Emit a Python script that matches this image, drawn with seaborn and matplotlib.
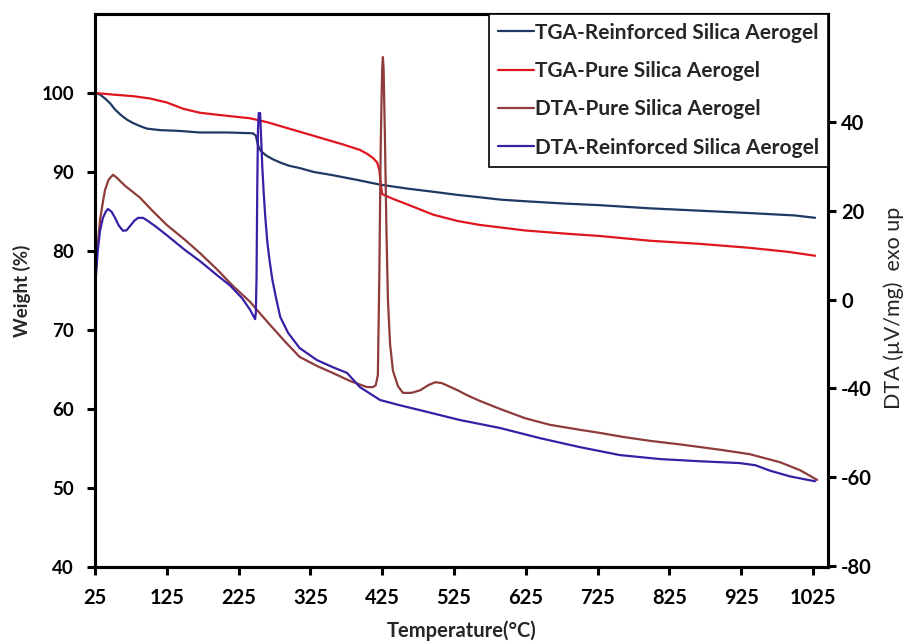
import matplotlib
matplotlib.use("Agg")
import matplotlib.pyplot as plt
import seaborn as sns
import pandas as pd

# ---------------- data ----------------
# TGA - Reinforced silica aerogel (Weight %, left axis)
tga_rein_T = [25, 32, 39, 46, 53, 60, 64, 70, 78, 88, 97, 106, 116, 143, 171, 210, 245, 249,
              252, 255, 258, 262, 265, 273, 283, 295, 310, 330, 356, 390, 422, 460, 496, 530,
              561, 590, 624, 680, 728, 798, 868, 937, 1000, 1028]
tga_rein_W = [100.0, 99.8, 99.3, 98.7, 97.9, 97.3, 97.0, 96.6, 96.2, 95.8, 95.5, 95.4, 95.3,
              95.2, 95.0, 95.0, 94.9, 94.6, 93.4, 92.8, 92.5, 92.2, 92.0, 91.6, 91.2, 90.8, 90.5,
              90.0, 89.6, 89.0, 88.4, 87.9, 87.5, 87.1, 86.8, 86.5, 86.3, 86.0, 85.8, 85.4,
              85.1, 84.8, 84.5, 84.2]

# TGA - Pure silica aerogel (Weight %, left axis)
tga_pure_T = [25, 50, 78, 102, 125, 148, 171, 200, 241, 265, 310, 340, 370, 394, 404, 412,
              418, 421, 423, 425, 440, 460, 496, 530, 561, 624, 680, 728, 798, 868, 937, 990,
              1028]
tga_pure_W = [100.0, 99.8, 99.6, 99.3, 98.8, 98.0, 97.5, 97.2, 96.8, 96.3, 95.1, 94.3, 93.5,
              92.8, 92.3, 91.8, 91.2, 90.3, 88.5, 87.2, 86.6, 85.9, 84.6, 83.8, 83.3, 82.6,
              82.2, 81.9, 81.3, 80.9, 80.4, 79.9, 79.4]

# DTA - Pure silica aerogel (right axis)
dta_pure_T = [25, 28, 32, 36, 39, 44, 50, 55, 60, 67, 78, 88, 105, 125, 150, 171, 195, 217,
              241, 265, 290, 310, 335, 356, 380, 404, 412, 416, 419, 421, 423, 425, 426, 427,
              429, 431, 433, 436, 440, 447, 454, 466, 478, 490, 499, 508, 515, 530, 543, 561,
              589, 624, 659, 700, 728, 760, 798, 840, 868, 900, 937, 979, 1007, 1031]
dta_pure_V = [3.3, 11.0, 17.9, 22.0, 24.7, 27.0, 28.1, 27.5, 26.7, 25.6, 24.2, 22.9, 20.0,
              16.8, 13.5, 10.5, 6.8, 3.1, -0.5, -5.0, -9.5, -12.9, -15.0, -16.5, -18.3, -19.7,
              -19.7, -19.3, -17.0, 5.0, 35.0, 52.0, 54.6, 52.0, 35.0, 15.0, 0.0, -10.0, -16.0,
              -19.5, -21.0, -21.0, -20.4, -19.2, -18.6, -18.8, -19.3, -20.4, -21.5, -22.8,
              -24.6, -26.7, -28.2, -29.3, -30.0, -30.9, -31.8, -32.6, -33.2, -33.9, -34.8,
              -36.6, -38.4, -40.6]

# DTA - Reinforced silica aerogel (right axis)
dta_rein_T = [25, 27, 29, 32, 36, 40, 43, 48, 53, 58, 64, 69, 74, 80, 85, 92, 97, 110, 125,
              150, 171, 195, 213, 230, 241, 246, 248, 249, 250, 251, 252, 253, 255, 256, 257,
              258, 260, 262, 265, 268, 272, 277, 283, 294, 310, 334, 356, 376, 394, 422, 450,
              478, 533, 589, 645, 700, 756, 812, 868, 923, 945, 965, 993, 1028]
dta_rein_V = [2.2, 7.0, 11.2, 15.5, 18.4, 19.8, 20.4, 19.8, 18.4, 16.7, 15.5, 15.6, 16.6,
              17.8, 18.4, 18.4, 17.9, 16.4, 14.5, 11.2, 8.7, 5.5, 3.2, 0.3, -2.3, -3.8, -4.4,
              -3.0, 5.0, 25.0, 38.0, 42.0, 42.0, 38.0, 34.0, 30.0, 24.0, 19.0, 13.0, 9.0, 4.5,
              0.5, -3.9, -7.5, -10.9, -13.6, -15.2, -16.5, -19.7, -22.6, -23.8, -24.9, -27.1,
              -28.9, -31.2, -33.2, -35.0, -35.9, -36.4, -36.8, -37.3, -38.5, -39.8, -40.9]

series_names = ["TGA-Reinforced Silica Aerogel", "TGA-Pure Silica Aerogel",
                "DTA-Pure Silica Aerogel", "DTA-Reinforced Silica Aerogel"]
series_colors = ["#1F3864", "#E0161E", "#8E3B3B", "#3A1FA6"]

x_ticks = [25, 125, 225, 325, 425, 525, 625, 725, 825, 925, 1025]
left_ticks = [40, 50, 60, 70, 80, 90, 100]
right_tick_vals = [-60, -40, -20, 0, 20, 40]
right_tick_labels = ["-80", "-60", "-40", "0", "20", "40"]

# ---------------- style ----------------
sns.set_style("ticks")
plt.rcParams["font.family"] = ["Lato", "DejaVu Sans"]

fig = plt.figure(figsize=(9.06, 6.41), dpi=100)
ax = fig.add_axes([95 / 906, 1 - 567 / 641, (828 - 95) / 906, (567 - 14) / 641])
ax2 = ax.twinx()

lw = 1.6
frames = [pd.DataFrame({"T": tga_rein_T, "v": tga_rein_W}),
          pd.DataFrame({"T": tga_pure_T, "v": tga_pure_W}),
          pd.DataFrame({"T": dta_pure_T, "v": dta_pure_V}),
          pd.DataFrame({"T": dta_rein_T, "v": dta_rein_V})]
axes_for = [ax, ax, ax2, ax2]
for df, a, c, n in zip(frames, axes_for, series_colors, series_names):
    sns.lineplot(data=df, x="T", y="v", ax=a, color=c, lw=lw, sort=False,
                 estimator=None, label=n, legend=False)

ax.set_xlim(25, 1046)
ax.set_ylim(40, 110)
ax2.set_ylim(-60.2, 64.3)

ax.set_xticks(x_ticks)
ax.set_yticks(left_ticks)
ax2.set_yticks(right_tick_vals)
ax2.set_yticklabels(right_tick_labels)

for a in (ax, ax2):
    for s in a.spines.values():
        s.set_linewidth(2.2)
        s.set_color("black")
    a.tick_params(width=2.2, length=6, colors="black", direction="out")

ax.tick_params(axis="x", pad=9)
ax.tick_params(axis="y", pad=9)
for lab in ax.get_xticklabels():
    lab.set_fontsize(14.5)
    lab.set_fontweight("bold")
for lab in ax.get_yticklabels():
    lab.set_fontsize(13.5)
    lab.set_fontweight("bold")
for lab in ax2.get_yticklabels():
    lab.set_fontsize(14.5)
    lab.set_fontweight("bold")

ax.set_xlabel("Temperature(°C)", fontsize=14.5, fontweight="bold", labelpad=9)
ax.set_ylabel("Weight (%)", fontsize=13.5, fontweight="bold")
ax.yaxis.set_label_coords((31 - 95) / 733, 0.5)
ax2.set_ylabel("DTA (µV/mg)  exo up", fontsize=15.5)
ax2.yaxis.set_label_coords((883 - 95) / 733, 1 - (308 - 14) / 553)

handles = ax.get_lines() + ax2.get_lines()
leg = ax2.legend(handles=handles, labels=series_names, loc="upper right",
                 bbox_to_anchor=(1.0, 1.0), borderaxespad=0, frameon=True,
                 fancybox=False, edgecolor="black", framealpha=1,
                 prop={"size": 15, "weight": "bold"}, handlelength=1.75,
                 handletextpad=0.05, labelspacing=0.88, borderpad=0.42)
leg.get_frame().set_linewidth(1.2)

fig.savefig("out.png", dpi=100)
